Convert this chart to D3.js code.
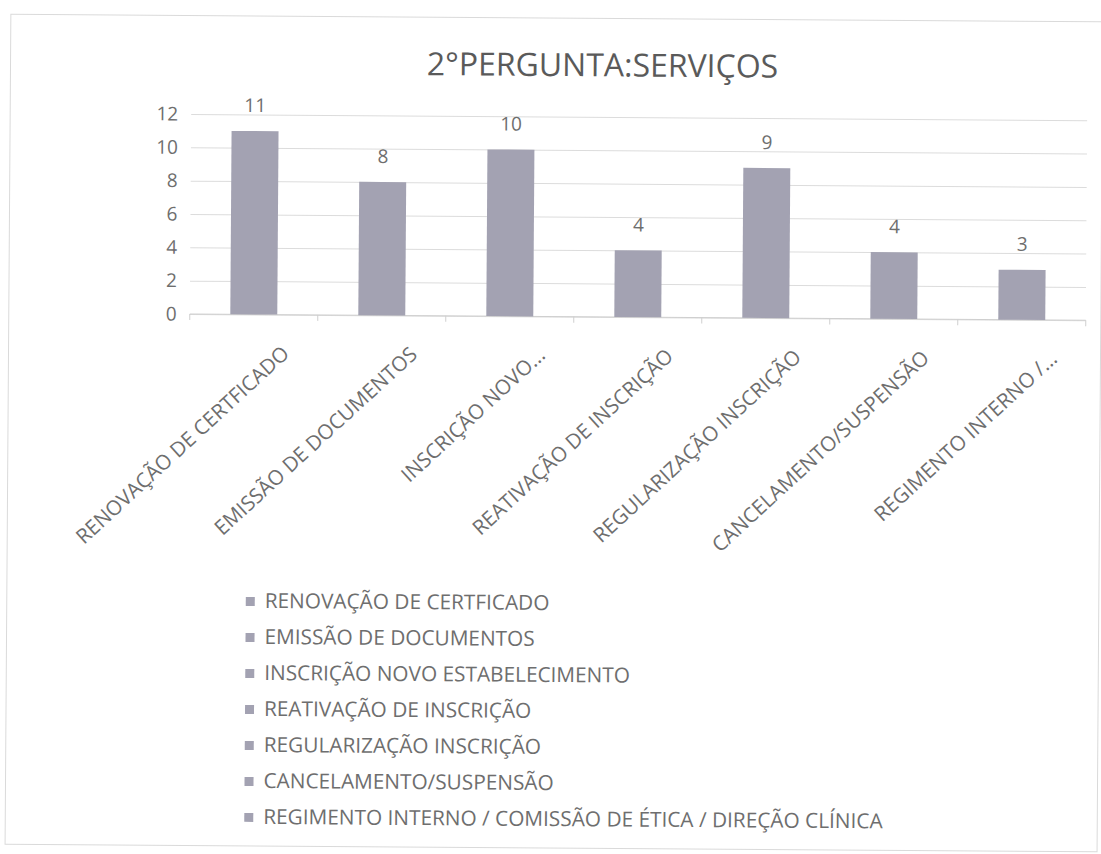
<!DOCTYPE html>
<html>
<head>
<meta charset="utf-8">
<script src="https://cdn.jsdelivr.net/npm/d3@7"></script>
<style>
  html, body { margin: 0; padding: 0; background: #ffffff; }
  svg { display: block; }
</style>
</head>
<body>
<script>
// ---- data ----
const title = "2°PERGUNTA:SERVIÇOS";
const categories = [
  "RENOVAÇÃO DE CERTFICADO",
  "EMISSÃO DE DOCUMENTOS",
  "INSCRIÇÃO NOVO ESTABELECIMENTO",
  "REATIVAÇÃO DE INSCRIÇÃO",
  "REGULARIZAÇÃO INSCRIÇÃO",
  "CANCELAMENTO/SUSPENSÃO",
  "REGIMENTO INTERNO / COMISSÃO DE ÉTICA / DIREÇÃO CLÍNICA"
];
const axisLabels = [
  "RENOVAÇÃO DE CERTFICADO",
  "EMISSÃO DE DOCUMENTOS",
  "INSCRIÇÃO NOVO...",
  "REATIVAÇÃO DE INSCRIÇÃO",
  "REGULARIZAÇÃO INSCRIÇÃO",
  "CANCELAMENTO/SUSPENSÃO",
  "REGIMENTO INTERNO /..."
];
const values = [11, 8, 10, 4, 9, 4, 3];
const yTicks = [0, 2, 4, 6, 8, 10, 12];

// ---- layout ----
const W = 1101, H = 854;
const FONT = "'Open Sans', 'DejaVu Sans', sans-serif";
const barColor = "#a3a2b2";
const textColor = "#6e6e6e";

const svg = d3.select("body").append("svg")
  .attr("width", W).attr("height", H);

const root = svg.append("g").attr("transform", "rotate(0.4 550 427)");

// frame
root.append("rect")
  .attr("x", 8).attr("y", 18).attr("width", 1092).attr("height", 830)
  .attr("fill", "none").attr("stroke", "#dadada").attr("stroke-width", 1);

const x = d3.scaleBand().domain(categories).range([189, 1085])
  .paddingInner(0.633).paddingOuter(0.3165);
const y = d3.scaleLinear().domain([0, 12]).range([316.5, 116.5]);

// gridlines
root.append("g")
  .attr("transform", "translate(189,0)")
  .call(d3.axisLeft(y).tickValues(yTicks).tickSize(-896).tickFormat(""))
  .call(g => g.select(".domain").remove())
  .call(g => g.selectAll("line").attr("stroke", "#dcdcdc").attr("stroke-width", 1));

// y tick labels
root.append("g")
  .attr("transform", "translate(176,0)")
  .call(d3.axisLeft(y).tickValues(yTicks).tickSize(0).tickPadding(0))
  .call(g => g.select(".domain").remove())
  .call(g => g.selectAll("text")
    .attr("font-family", FONT).attr("font-size", 19).attr("fill", textColor));

// x axis line + ticks at band boundaries
const xAxisG = root.append("g");
xAxisG.append("line")
  .attr("x1", 189).attr("x2", 1085).attr("y1", y(0)).attr("y2", y(0))
  .attr("stroke", "#cfcfcf").attr("stroke-width", 1);
const boundaries = categories.map(c => x(c) - (x.step() - x.bandwidth()) / 2)
  .concat([1085]);
xAxisG.selectAll("line.tick").data(boundaries).enter().append("line")
  .attr("class", "tick")
  .attr("x1", d => d).attr("x2", d => d)
  .attr("y1", y(0)).attr("y2", y(0) + 6)
  .attr("stroke", "#cfcfcf");

// bars
root.append("g").selectAll("rect").data(values).enter().append("rect")
  .attr("x", (d, i) => x(categories[i]))
  .attr("y", d => y(d))
  .attr("width", x.bandwidth())
  .attr("height", d => y(0) - y(d))
  .attr("fill", barColor);

// data labels
root.append("g").selectAll("text").data(values).enter().append("text")
  .attr("x", (d, i) => x(categories[i]) + x.bandwidth() / 2)
  .attr("y", d => y(d) - 19)
  .attr("text-anchor", "middle")
  .attr("font-family", FONT).attr("font-size", 19).attr("fill", textColor)
  .text(d => d);

// rotated category labels
root.append("g").selectAll("text").data(axisLabels).enter().append("text")
  .attr("transform", (d, i) => {
    const px = x(categories[i]) + x.bandwidth() / 2 + 37;
    return `translate(${px},357) rotate(-43)`;
  })
  .attr("text-anchor", "end")
  .attr("font-family", FONT).attr("font-size", 20.5).attr("fill", textColor)
  .text(d => d);

// title
root.append("text")
  .attr("x", 600).attr("y", 76)
  .attr("text-anchor", "middle")
  .attr("font-family", FONT).attr("font-size", 32).attr("fill", "#5a5a5a")
  .text(title);

// legend
const legend = root.append("g");
const rows = legend.selectAll("g").data(categories).enter().append("g")
  .attr("transform", (d, i) => `translate(247,${610 + i * 36})`);
rows.append("rect")
  .attr("x", 0).attr("y", -11).attr("width", 9).attr("height", 9)
  .attr("fill", barColor);
rows.append("text")
  .attr("x", 19).attr("y", 0)
  .attr("font-family", FONT).attr("font-size", 20.8).attr("fill", textColor)
  .text(d => d);
</script>
</body>
</html>
